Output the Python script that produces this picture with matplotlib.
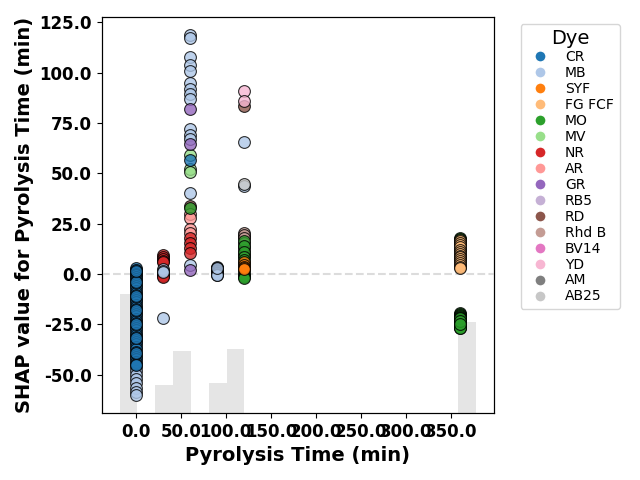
import matplotlib
matplotlib.use("Agg")
import matplotlib.pyplot as plt
import numpy as np
from matplotlib.lines import Line2D
from matplotlib.ticker import FormatStrFormatter

# legend order = tab20 order
DYES = ["CR", "MB", "SYF", "FG FCF", "MO", "MV", "NR", "AR",
        "GR", "RB5", "RD", "Rhd B", "BV14", "YD", "AM", "AB25"]
DYE_COLORS = dict(zip(DYES, plt.get_cmap("tab20").colors))

TIMES = [0, 30, 60, 90, 120, 360]

# SHAP values per pyrolysis time, grouped by dye (draw order = list order)
T0 = {
    "MB": [2.0, -46.0, -48.0, -50.0, -52.0, -54.0, -56.5, -58.5, -60.0],
    "CR": [3.0, 2.0, 1.0, 0.0, -0.5, -1.5, -2.5, -3.5, -5.0, -6.0, -7.0,
           -8.5, -9.5, -10.5, -12.0, -13.0, -14.0, -15.5, -16.5, -17.5,
           -19.0, -20.0, -21.0, -22.5, -23.5, -24.5, -26.0, -27.0, -28.0,
           -29.5, -30.5, -31.5, -33.0, -34.0, -35.0, -36.5, -37.5, -38.5,
           -40.0, -41.0, -42.0, -43.5, -44.5, -4.0, -11.0, -18.0, -25.0,
           -32.0, -39.0, 1.5, -45.0],
}
T30 = {
    "NR": [9.5, 8.5, 7.5, 6.5, 6.0, 0.5, 0.0, -0.5, -1.0, -1.5],
    "MB": [2.5, 1.5, 1.0, -22.0],
}
T60 = {
    "MB": [118.8, 117.0, 108.0, 104.0, 101.0, 95.0, 92.0, 89.5, 87.0,
           72.0, 69.0, 67.0, 40.0, 4.5],
    "RD": [34.0],
    "AR": [30.0, 28.0, 22.5, 20.5],
    "NR": [18.0, 15.5, 13.0, 10.5],
    "MV": [59.0, 52.0, 50.5],
    "CR": [56.5],
    "MO": [33.0],
    "GR": [82.0, 64.5, 2.0],
}
T90 = {
    "MB": [3.5, 3.2, 3.0, 2.6, 2.3, 2.0, 1.6, 1.3, 1.0, 0.6, 0.3, 0.0,
           -0.3, -0.6, 2.8],
}
T120 = {
    "MB": [65.5, 43.5],
    "RD": [83.5, 18.5],
    "YD": [91.0, 86.0],
    "AB25": [44.5],
    "Rhd B": [20.5, 19.5, 18.0, 15.5, 13.5, 12.0, 10.0, 9.0],
    "MO": [16.5, 14.0, 11.0, 8.5, 7.0, 5.5, 2.0, 0.5, -0.5, -1.0, -1.5, -2.0],
    "SYF": [6.0, 4.5, 3.5, 3.0, 2.5],
}
T360 = {
    "MO": [18.0, 17.5, 16.0, 15.0, 12.5, 8.0,
           -19.5, -20.0, -20.5, -21.0, -21.3, -21.8, -22.2, -22.6, -23.0,
           -23.4, -23.8, -24.1, -24.5, -24.8, -25.2, -25.5, -25.8, -26.1,
           -26.4, -26.7, -27.0, -22.0, -23.2, -24.6],
    "FG FCF": [17.0, 16.5, 15.5, 14.5, 13.5, 12.0, 11.0, 10.0, 9.0, 8.5,
               7.5, 6.5, 5.5, 4.5, 3.5, 3.0],
}
GROUPS = [T0, T30, T60, T90, T120, T360]


def main():
    fig, ax = plt.subplots(figsize=(6.4, 4.8), dpi=100)
    ax2 = ax.twinx()

    all_x = []
    for t, grp in zip(TIMES, GROUPS):
        for dye, vals in grp.items():
            xs = np.full(len(vals), t, dtype=float)
            all_x.extend(xs)
            ax.scatter(xs, vals, s=72, color=DYE_COLORS[dye], edgecolor="black",
                       linewidths=0.8, alpha=0.8, zorder=3)

    # feature distribution in the background
    all_x = np.array(all_x)
    span = all_x.max() - all_x.min()
    counts, edges = np.histogram(all_x, bins=20,
                                 range=(all_x.min() - 0.05 * span, all_x.max() + 0.05 * span))
    ax2.bar(edges[:-1], counts, width=np.diff(edges), align="edge",
            color="gray", alpha=0.2)
    ax2.set_ylim(0, counts.max() / 0.3)
    ax2.set_yticks([])
    ax.set_zorder(ax2.get_zorder() + 1)
    ax.patch.set_visible(False)

    ax.axhline(0, color="#dcdcdc", linestyle="--", linewidth=1.5, zorder=1)

    ax.xaxis.set_major_formatter(FormatStrFormatter("%.1f"))
    ax.yaxis.set_major_formatter(FormatStrFormatter("%.1f"))
    for lab in ax.get_xticklabels() + ax.get_yticklabels():
        lab.set_fontweight("bold")
        lab.set_fontsize(12)
    ax.set_xlabel("Pyrolysis Time (min)", fontsize=14, fontweight="bold")
    ax.set_ylabel("SHAP value for Pyrolysis Time (min)", fontsize=14, fontweight="bold")

    handles = [Line2D([0], [0], marker="o", color="w", markerfacecolor=DYE_COLORS[d],
                      markersize=8, label=d) for d in DYES]
    ax.legend(handles=handles, title="Dye", title_fontsize=14, fontsize=10,
              bbox_to_anchor=(1.05, 1), loc="upper left", labelspacing=0.14)

    fig.subplots_adjust(left=0.159, right=0.772, bottom=0.14, top=0.965)
    fig.savefig("out.png", dpi=100)


if __name__ == "__main__":
    main()
